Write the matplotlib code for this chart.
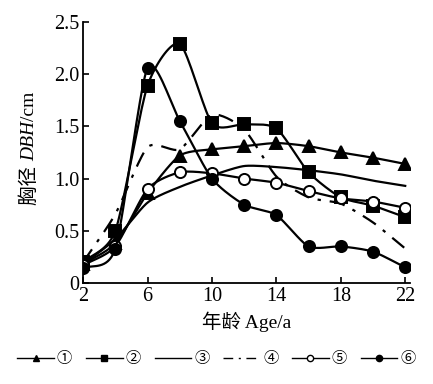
"""DBH growth curves by age class."""

import matplotlib

matplotlib.use("Agg")
from matplotlib import pyplot as plt
from matplotlib.lines import Line2D
import numpy as np

ages = [2, 4, 6, 8, 10, 12, 14, 16, 18, 20, 22]
s1 = [0.18, 0.38, 0.86, 1.22, 1.28, 1.31, 1.34, 1.31, 1.25, 1.20, 1.14]
s2 = [0.20, 0.50, 1.89, 2.29, 1.53, 1.52, 1.48, 1.06, 0.82, 0.74, 0.63]
s3 = [0.18, 0.42, 0.77, 0.92, 1.03, 1.12, 1.11, 1.08, 1.04, 0.98, 0.93]
s4 = [0.20, 0.66, 1.30, 1.28, 1.61, 1.47, 1.02, 0.82, 0.76, 0.58, 0.33]
s5 = [0.17, 0.35, 0.90, 1.06, 1.05, 1.00, 0.96, 0.88, 0.81, 0.78, 0.72]
s6 = [0.14, 0.33, 2.06, 1.55, 1.00, 0.75, 0.65, 0.35, 0.35, 0.30, 0.15]
labels = ["①", "②", "③", "④", "⑤", "⑥"]

FONTS = ["Liberation Serif", "Noto Sans CJK SC", "DejaVu Sans"]
plt.rcParams["font.family"] = FONTS


def smooth(x, y, n=20, tension=0.35):
    """Hermite curve through the points, like spreadsheet smoothing."""
    x = np.asarray(x, float)
    y = np.asarray(y, float)
    px = np.concatenate([[2 * x[0] - x[1]], x, [2 * x[-1] - x[-2]]])
    py = np.concatenate([[2 * y[0] - y[1]], y, [2 * y[-1] - y[-2]]])
    out_x, out_y = [], []
    t = np.linspace(0, 1, n)
    h00 = 2 * t**3 - 3 * t**2 + 1
    h10 = t**3 - 2 * t**2 + t
    h01 = -2 * t**3 + 3 * t**2
    h11 = t**3 - t**2
    for i in range(1, len(px) - 2):
        p0, p1, p2, p3 = px[i - 1], px[i], px[i + 1], px[i + 2]
        q0, q1, q2, q3 = py[i - 1], py[i], py[i + 1], py[i + 2]
        out_x.extend(h00 * p1 + h10 * tension * (p2 - p0)
                     + h01 * p2 + h11 * tension * (p3 - p1))
        out_y.extend(h00 * q1 + h10 * tension * (q2 - q0)
                     + h01 * q2 + h11 * tension * (q3 - q1))
    return out_x, out_y


fig = plt.figure(figsize=(4.33, 3.84), dpi=100)
ax = fig.add_axes([0.192, 0.263, 0.755, 0.68])

lw = 1.6
styles = [
    (s1, "-", "^", "k", 8),
    (s2, "-", "s", "k", 8),
    (s3, "-", None, "k", 0),
    (s4, (0, (7, 4, 1.5, 4)), None, "k", 0),
    (s5, "-", "o", "white", 8),
    (s6, "-", "o", "k", 8),
]
handles = []
for (vals, ls, mk, fc, ms), lab in zip(styles, labels):
    cx, cy = smooth(ages, vals)
    ax.plot(cx, cy, color="black", linestyle=ls, linewidth=lw)
    if mk:
        ax.plot(ages, vals, linestyle="none", marker=mk, markersize=ms,
                markerfacecolor=fc, markeredgecolor="black", markeredgewidth=1.4)
    handles.append(Line2D([], [], color="black", linestyle=ls, linewidth=1.0,
                          marker=mk, markersize=4.5, markerfacecolor=fc,
                          markeredgecolor="black", markeredgewidth=1.0, label=lab))

ax.set_xlim(2, 22.3)
ax.set_ylim(0, 2.5)
ax.set_xticks([2, 6, 10, 14, 18, 22])
ax.set_yticks([0, 0.5, 1.0, 1.5, 2.0, 2.5])
ax.set_yticklabels(["0", "0.5", "1.0", "1.5", "2.0", "2.5"])
ax.tick_params(direction="in", length=4, width=1.2, labelsize=14.5, pad=3)
for side in ("top", "right"):
    ax.spines[side].set_visible(False)
for side in ("left", "bottom"):
    ax.spines[side].set_linewidth(1.3)

ax.set_xlabel("年龄 Age/a", fontsize=14, labelpad=4)

# y label built from pieces so DBH can be italic
renderer = fig.canvas.get_renderer()
pieces = [("胸径 ", "normal"), ("DBH", "italic"), ("/cm", "normal")]
x_px, y_px = 30, 384 - 205
for txt, style in pieces:
    t = fig.text(x_px / 433, y_px / 384, txt, rotation=90, rotation_mode="anchor",
                 ha="left", va="center", fontsize=14, style=style, family=FONTS)
    y_px += t.get_window_extent(renderer).height

fig.legend(handles=handles, loc="center", bbox_to_anchor=(0.5, 0.065), ncol=6,
           frameon=False, fontsize=11, handlelength=2.4, handletextpad=0.2,
           columnspacing=0.9, borderpad=0.1)

fig.savefig("out.png", dpi=100)
